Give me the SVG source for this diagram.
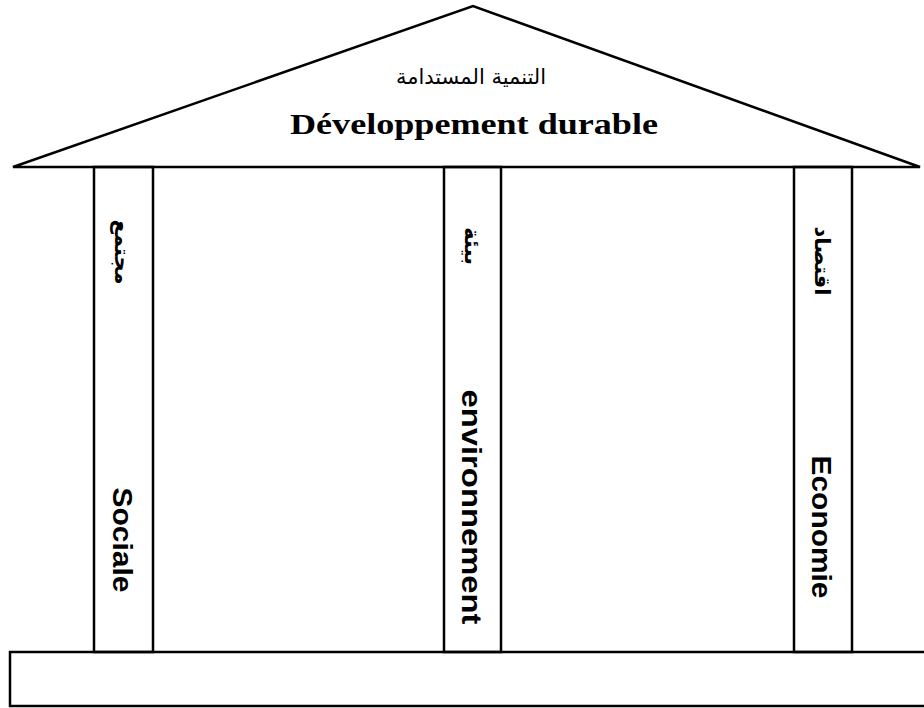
<svg xmlns="http://www.w3.org/2000/svg" width="924" height="708" viewBox="0 0 924 708">
<style>
.ln{fill:none;stroke:#000;stroke-width:2.5}
.fr{font-family:"Liberation Sans",Arial,sans-serif;font-weight:bold;font-size:28px;fill:#000}
.ar{font-family:"DejaVu Sans","Noto Sans",sans-serif;font-weight:bold;font-size:21px;fill:#000}
.art{font-family:"DejaVu Sans","Noto Sans",sans-serif;font-weight:normal;font-size:21px;fill:#000}
.ttl{font-family:"Liberation Serif","Times New Roman",serif;font-weight:bold;font-size:29px;fill:#000}
</style>
<rect width="924" height="708" fill="#fff"/>
<g id="roof">
<path class="ln" d="M13 167 L473 6 L920 167 Z"/>
<text class="art" x="471" y="84" text-anchor="middle" direction="rtl">التنمية المستدامة</text>
<text class="ttl" x="474" y="134" text-anchor="middle" textLength="368" lengthAdjust="spacingAndGlyphs">Développement durable</text>
</g>
<g id="pillar-social">
<rect class="ln" x="94" y="167" width="59" height="485"/>
<text class="ar" transform="translate(115,252) rotate(90)" text-anchor="middle" direction="rtl">مجتمع</text>
<text class="fr" transform="translate(113,540) rotate(90)" text-anchor="middle" textLength="105" lengthAdjust="spacingAndGlyphs">Sociale</text>
</g>
<g id="pillar-env">
<rect class="ln" x="444" y="167" width="57" height="485"/>
<text class="ar" transform="translate(465,246) rotate(90)" text-anchor="middle" direction="rtl">بيئة</text>
<text class="fr" transform="translate(462,507) rotate(90)" text-anchor="middle" textLength="235" lengthAdjust="spacingAndGlyphs">environnement</text>
</g>
<g id="pillar-eco">
<rect class="ln" x="794" y="167" width="58" height="485"/>
<text class="ar" transform="translate(815,261) rotate(90)" text-anchor="middle" direction="rtl">اقتصاد</text>
<text class="fr" transform="translate(812,527) rotate(90)" text-anchor="middle" textLength="143" lengthAdjust="spacingAndGlyphs">Economie</text>
</g>
<g id="base">
<rect class="ln" x="10" y="652" width="930" height="54"/>
</g>
</svg>
